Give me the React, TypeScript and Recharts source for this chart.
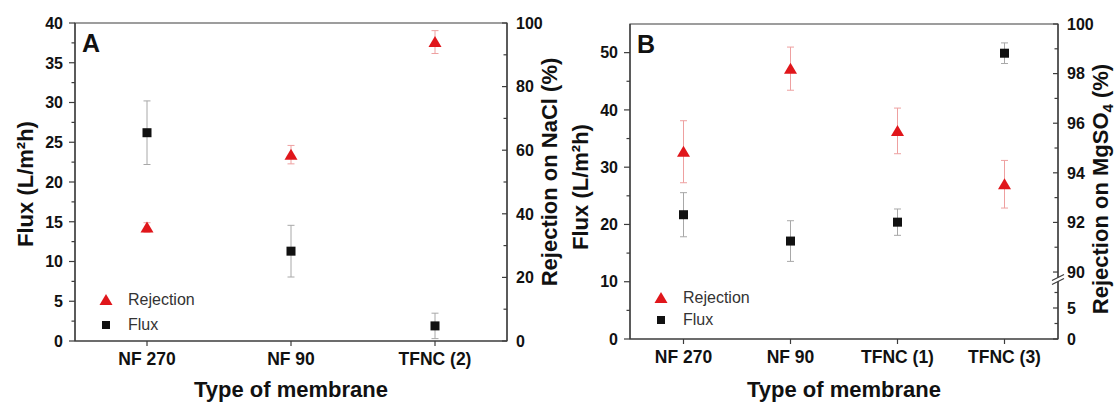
import React from 'react';
import { ComposedChart, Scatter, XAxis, YAxis, ErrorBar, Legend, Label, ReferenceArea } from 'recharts';

const FONT = '"Liberation Sans", Arial, Helvetica, sans-serif';
const AXIS = '#3c3c3c';
const INK = '#111';
const RED = '#e0161b';
const RED_ERR = '#eea0a0';
const GREY_ERR = '#a8a8a8';

// Panel A – NaCl
const membranesA = ['NF 270', 'NF 90', 'TFNC (2)'];
const fluxA = [26.2, 11.3, 1.9];
const fluxErrA = [4.0, 3.25, 1.6];
const rejectionA = [35.7, 58.6, 94.0];
const rejectionErrA = [1.5, 2.9, 3.6];

// Panel B – MgSO4
const membranesB = ['NF 270', 'NF 90', 'TFNC (1)', 'TFNC (3)'];
const fluxB = [21.7, 17.1, 20.4, 49.9];
const fluxErrB = [3.85, 3.55, 2.3, 1.8];
const rejectionB = [94.85, 98.2, 95.69, 93.54];
const rejectionErrB = [1.25, 0.87, 0.92, 0.96];

// axis ticks
const fluxTicksA = [0, 5, 10, 15, 20, 25, 30, 35, 40];
const fluxMinorA = [2.5, 7.5, 12.5, 17.5, 22.5, 27.5, 32.5, 37.5];
const naclTicks = [0, 20, 40, 60, 80, 100];
const naclMinor = [10, 30, 50, 70, 90];
const fluxTicksB = [0, 10, 20, 30, 40, 50];
const fluxMinorB = [5, 15, 25, 35, 45];
const mgso4Ticks = [0, 5, 90, 92, 94, 96, 98, 100];
const mgso4Minor = [2.5, 7.5, 91, 93, 95, 97, 99];

const legendNames = ['Rejection', 'Flux'];

// broken right axis of panel B: values below 90 are squeezed
const LOW_BASE = 87.3;
const LOW_FACTOR = 0.25;
const BREAK_MARK = 89.7;
const toBroken = (v: number) => (v >= 90 ? v : LOW_BASE + v * LOW_FACTOR);
const fromBroken = (a: number) => (a >= 90 ? a : (a - LOW_BASE) / LOW_FACTOR);

const L_SIZE = 6;
const L_MARGIN = 6;
const R_SIZE = 4;
const R_MARGIN = 5;

const near = (a: number, b: number) => Math.abs(a - b) < 1e-6;

function YTick(props: any) {
  const { x, y, payload, side, minor, fmt, breakAt } = props;
  const v = payload.value;
  const axisX = side === 'left' ? x + L_SIZE + L_MARGIN : x - R_SIZE - R_MARGIN;
  if (breakAt != null && near(v, breakAt)) {
    return (
      <g>
        <polygon
          points={`${axisX - 6},${y + 5} ${axisX + 6},${y - 1} ${axisX + 6},${y - 5} ${axisX - 6},${y + 1}`}
          fill="#fff"
        />
        <line x1={axisX - 6} y1={y + 5} x2={axisX + 6} y2={y - 1} stroke={AXIS} strokeWidth={1.1} />
        <line x1={axisX - 6} y1={y + 1} x2={axisX + 6} y2={y - 5} stroke={AXIS} strokeWidth={1.1} />
      </g>
    );
  }
  const isMinor = minor.some((m: number) => near(m, v));
  const len = isMinor ? 3.5 : side === 'left' ? 6 : 5;
  return (
    <g>
      <line x1={axisX - len} y1={y} x2={axisX} y2={y} stroke={AXIS} strokeWidth={1.2} />
      {!isMinor && (
        <text
          x={x}
          y={y}
          dy="0.36em"
          textAnchor={side === 'left' ? 'end' : 'start'}
          fill={INK}
          fontSize={16}
          fontWeight={700}
          fontFamily={FONT}
        >
          {fmt(v)}
        </text>
      )}
    </g>
  );
}

const Square = (p: any) => <rect x={p.cx - 4.5} y={p.cy - 4.5} width={9} height={9} fill={INK} />;
const Triangle = (p: any) => (
  <polygon points={`${p.cx},${p.cy - 6} ${p.cx + 6.5},${p.cy + 5} ${p.cx - 6.5},${p.cy + 5}`} fill={RED} />
);

function LegendBox({ rowHeight }: { rowHeight: number }) {
  return (
    <div style={{ fontFamily: FONT, fontSize: 16, color: '#333' }}>
      {legendNames.map((name) => (
        <div key={name} style={{ display: 'flex', alignItems: 'center', height: rowHeight }}>
          <svg width={14} height={14} style={{ marginRight: 15 }}>
            {name === 'Rejection' ? (
              <polygon points="7,1 13.5,12 0.5,12" fill={RED} />
            ) : (
              <rect x={3} y={3} width={8} height={8} fill={INK} />
            )}
          </svg>
          <span>{name}</span>
        </div>
      ))}
    </div>
  );
}

const titleStyle = { fill: INK, fontSize: 22, fontWeight: 700, fontFamily: FONT } as const;

type PanelProps = {
  letter: string;
  membranes: string[];
  flux: number[];
  fluxErr: number[];
  rejection: number[];
  rejectionErr: number[];
  fluxDomain: [number, number];
  fluxTicks: number[];
  fluxMinor: number[];
  rejDomain: [number, number];
  rejTicks: number[];
  rejMinor: number[];
  rejFmt: (v: number) => string;
  breakAt?: number;
  width: number;
  rightWidth: number;
  top: number;
  xHeight: number;
  rightTitle: React.ReactNode;
  rightTitlePos: [number, number];
  leftTitleY: number;
  legendTop: number;
  legendRow: number;
};

function Panel(p: PanelProps) {
  const rows = p.membranes.map((m, i) => ({
    pos: i + 1,
    name: m,
    flux: p.flux[i],
    fluxErr: p.fluxErr[i],
    rejection: p.rejection[i],
    rejectionErr: p.rejectionErr[i],
  }));
  const n = p.membranes.length;
  const W = p.width;
  const H = 403;
  const plotLeft = 75;
  const plotRight = W - p.rightWidth;
  return (
    <ComposedChart width={W} height={H} margin={{ top: p.top, right: 0, bottom: 0, left: 0 }}>
      <XAxis
        dataKey="pos"
        type="number"
        domain={[0.5, n + 0.5]}
        ticks={rows.map((r) => r.pos)}
        interval={0}
        allowDataOverflow
        tickFormatter={(v: number) => p.membranes[v - 1]}
        height={p.xHeight}
        axisLine={{ stroke: AXIS, strokeWidth: 1.2 }}
        tickLine={{ stroke: AXIS, strokeWidth: 1.2 }}
        tickSize={5}
        tickMargin={7}
        tick={{ fill: INK, fontSize: 17.5, fontWeight: 700, fontFamily: FONT }}
      >
        <Label
          content={() => (
            <text x={(plotLeft + plotRight) / 2} y={397} textAnchor="middle" {...titleStyle}>
              Type of membrane
            </text>
          )}
        />
      </XAxis>
      <YAxis
        yAxisId="flux"
        orientation="left"
        type="number"
        domain={p.fluxDomain}
        allowDataOverflow
        ticks={[...p.fluxTicks, ...p.fluxMinor].sort((a, b) => a - b)}
        interval={0}
        width={75}
        tickSize={L_SIZE}
        tickMargin={L_MARGIN}
        tickLine={false}
        axisLine={{ stroke: AXIS, strokeWidth: 1.2 }}
        tick={(t: any) => <YTick {...t} side="left" minor={p.fluxMinor} fmt={(v: number) => String(v)} />}
      >
        <Label
          content={() => (
            <text transform={`translate(25,${p.leftTitleY}) rotate(-90)`} dy="0.36em" textAnchor="middle" {...titleStyle}>
              Flux (L/m²h)
            </text>
          )}
        />
      </YAxis>
      <YAxis
        yAxisId="rejection"
        orientation="right"
        type="number"
        domain={p.rejDomain}
        allowDataOverflow
        ticks={p.rejTicks}
        interval={0}
        width={p.rightWidth}
        tickSize={R_SIZE}
        tickMargin={R_MARGIN}
        tickLine={false}
        axisLine={{ stroke: AXIS, strokeWidth: 1.2 }}
        tick={(t: any) => (
          <YTick {...t} side="right" minor={p.rejMinor} fmt={p.rejFmt} breakAt={p.breakAt} />
        )}
      >
        <Label
          content={() => (
            <text
              transform={`translate(${p.rightTitlePos[0]},${p.rightTitlePos[1]}) rotate(-90)`}
              dy="0.36em"
              textAnchor="middle"
              {...titleStyle}
            >
              {p.rightTitle}
            </text>
          )}
        />
      </YAxis>
      {/* frame round the plot */}
      <ReferenceArea
        yAxisId="flux"
        x1={0.5}
        x2={n + 0.5}
        y1={p.fluxDomain[0]}
        y2={p.fluxDomain[1]}
        fill="none"
        fillOpacity={0}
        stroke={AXIS}
        strokeWidth={1.2}
        ifOverflow="visible"
      >
        <Label
          content={() => (
            <text x={plotLeft + 7} y={p.top + 29} fill={INK} fontSize={25} fontWeight={700} fontFamily={FONT}>
              {p.letter}
            </text>
          )}
        />
      </ReferenceArea>
      <Legend
        layout="horizontal"
        verticalAlign="middle"
        align="center"
        wrapperStyle={{ left: 99, top: p.legendTop, width: 'auto', lineHeight: 'normal' }}
        content={() => <LegendBox rowHeight={p.legendRow} />}
      />
      <Scatter
        name="Flux"
        data={rows}
        dataKey="flux"
        yAxisId="flux"
        shape={Square}
        isAnimationActive={false}
      >
        <ErrorBar dataKey="fluxErr" direction="y" width={3.5} stroke={GREY_ERR} strokeWidth={1} />
      </Scatter>
      <Scatter
        name="Rejection"
        data={rows}
        dataKey="rejection"
        yAxisId="rejection"
        shape={Triangle}
        isAnimationActive={false}
      >
        <ErrorBar dataKey="rejectionErr" direction="y" width={3.5} stroke={RED_ERR} strokeWidth={1} />
      </Scatter>
    </ComposedChart>
  );
}

export default function App() {
  const mgTicks = [...mgso4Ticks, ...mgso4Minor].map(toBroken).concat(BREAK_MARK).sort((a, b) => a - b);
  return (
    <div
      style={{
        position: 'absolute',
        left: 0,
        top: 0,
        width: 1115,
        height: 403,
        background: '#fff',
        overflow: 'hidden',
        fontFamily: FONT,
      }}
    >
      <div style={{ position: 'absolute', left: 0, top: 0 }}>
        <Panel
          letter="A"
          membranes={membranesA}
          flux={fluxA}
          fluxErr={fluxErrA}
          rejection={rejectionA}
          rejectionErr={rejectionErrA}
          fluxDomain={[0, 40]}
          fluxTicks={fluxTicksA}
          fluxMinor={fluxMinorA}
          rejDomain={[0, 100]}
          rejTicks={[...naclTicks, ...naclMinor].sort((a, b) => a - b)}
          rejMinor={naclMinor}
          rejFmt={(v) => String(v)}
          width={570}
          rightWidth={63}
          top={23}
          xHeight={62}
          rightTitle="Rejection on NaCl (%)"
          rightTitlePos={[549, 172]}
          leftTitleY={184}
          legendTop={287.5}
          legendRow={25}
        />
      </div>
      <div style={{ position: 'absolute', left: 555, top: 0 }}>
        <Panel
          letter="B"
          membranes={membranesB}
          flux={fluxB}
          fluxErr={fluxErrB}
          rejection={rejectionB}
          rejectionErr={rejectionErrB}
          fluxDomain={[0, 55]}
          fluxTicks={fluxTicksB}
          fluxMinor={fluxMinorB}
          rejDomain={[LOW_BASE, 100]}
          rejTicks={mgTicks}
          rejMinor={mgso4Minor.map(toBroken)}
          rejFmt={(v) => String(Math.round(fromBroken(v) * 10) / 10)}
          breakAt={BREAK_MARK}
          width={560}
          rightWidth={57}
          top={24}
          xHeight={64}
          rightTitle={
            <>
              <tspan>Rejection on MgSO</tspan>
              <tspan dy={5} fontSize={15}>
                4
              </tspan>
              <tspan dy={-5}> (%)</tspan>
            </>
          }
          rightTitlePos={[545, 189]}
          leftTitleY={187}
          legendTop={286.5}
          legendRow={22}
        />
      </div>
    </div>
  );
}
